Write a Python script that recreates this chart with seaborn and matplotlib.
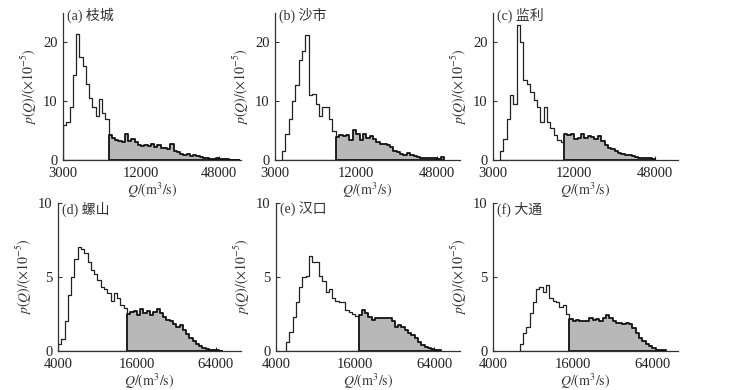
import numpy as np
import pandas as pd
import matplotlib
matplotlib.use("Agg")
import matplotlib.pyplot as plt
import seaborn as sns

sns.set_style("ticks")
plt.rcParams['font.family'] = ['Liberation Serif', 'Noto Sans CJK SC']
plt.rcParams['mathtext.fontset'] = 'stix'

# station names
titles = ["(a) 枝城", "(b) 沙市", "(c) 监利", "(d) 螺山", "(e) 汉口", "(f) 大通"]

# histogram bins are 1/12 octave wide; lower edge of first bin (m3/s)
bin_ratio = 2 ** (1 / 12)
q_first = [3000, 3367, 3367, 4000, 4757, 6350]

# p(Q) x 1e-5, below the threshold discharge (white) and above it (gray)
low_a = [6, 6.5, 9, 14.5, 21.5, 17.5, 16, 13, 10.5, 9, 7.5, 10.3, 8, 7]
high_a = [4.2, 3.8, 3.4, 3.3, 3.0, 4.4, 3.2, 3.6, 3.0, 2.6, 2.3, 2.6, 2.4, 2.7, 2.2,
          2.5, 2.0, 2.1, 1.9, 2.7, 1.6, 1.3, 1.1, 0.9, 1.0, 0.7, 0.8, 0.6, 0.5, 0.4,
          0.3, 0.25, 0.2, 0.3, 0.15, 0.1, 0.1, 0.05, 0.05, 0.05]

low_b = [1.5, 4.5, 7, 10, 12.8, 17, 18.5, 21.3, 11, 11.2, 9.5, 7.5, 9, 9, 7, 5]
high_b = [3.9, 4.3, 4.0, 4.3, 3.4, 5.1, 4.5, 3.4, 4.5, 3.7, 4.0, 3.5, 3.1, 2.8, 2.7,
          2.6, 2.2, 1.6, 1.3, 1.0, 0.9, 1.2, 0.9, 0.7, 0.5, 0.4, 0.4, 0.3, 0.3, 0.35,
          0.25, 0.5]

low_c = [1.5, 3.5, 7, 11, 9.5, 23, 20, 13.6, 13, 11.5, 10.2, 9, 6.5, 9, 6.5, 5.5,
         4.2, 3.4, 3.0]
high_c = [4.5, 4.3, 4.4, 3.5, 3.7, 4.5, 3.8, 4.0, 3.9, 3.6, 4.0, 3.2, 2.5, 2.1, 1.8,
          1.5, 1.2, 1.0, 0.9, 0.8, 0.65, 0.5, 0.4, 0.35, 0.35, 0.3, 0.25]

low_d = [0.5, 0.8, 2.0, 3.8, 5.0, 6.2, 7.0, 6.9, 6.6, 6.0, 5.5, 5.2, 4.8, 4.3, 4.2,
         3.9, 3.4, 3.9, 3.6, 3.1, 2.9]
high_d = [2.5, 2.65, 2.7, 2.45, 2.85, 2.6, 2.7, 2.4, 2.65, 2.85, 2.6, 2.3, 2.1, 2.0,
          1.85, 1.65, 1.75, 1.4, 1.15, 0.9, 0.65, 0.45, 0.32, 0.2, 0.14, 0.1, 0.07,
          0.05, 0.03]

low_e = [0.6, 1.3, 2.3, 3.3, 4.3, 5.0, 5.1, 6.4, 6.0, 6.0, 5.1, 4.7, 4.0, 4.2, 3.6,
         3.35, 3.3, 3.3, 2.8, 2.65, 2.5, 2.35]
high_e = [2.45, 2.75, 2.55, 2.3, 2.1, 2.2, 2.25, 2.2, 2.25, 2.2, 2.0, 1.6, 1.75, 1.6,
          1.4, 1.2, 1.05, 0.85, 0.6, 0.4, 0.3, 0.2, 0.15, 0.1, 0.08]

low_f = [0.45, 1.2, 1.6, 2.6, 3.3, 4.2, 4.3, 4.0, 4.45, 3.6, 3.4, 3.3, 3.0, 3.1, 2.5]
high_f = [2.15, 2.0, 2.1, 2.0, 2.05, 2.05, 2.2, 2.1, 2.15, 2.05, 2.2, 2.4, 2.2, 2.05,
          1.9, 1.9, 1.85, 1.9, 1.8, 1.55, 1.25, 0.9, 0.65, 0.45, 0.35, 0.18, 0.1,
          0.07, 0.05]

lows = [low_a, low_b, low_c, low_d, low_e, low_f]
highs = [high_a, high_b, high_c, high_d, high_e, high_f]

# axis ticks for the two rows
xticks_top = [3000, 12000, 48000]
xticks_bottom = [4000, 16000, 64000]
yticks_top = [0, 10, 20]
yticks_bottom = [0, 5, 10]

# axes rectangles in pixels: left, top, width, height (figure 729 x 390)
W, H = 729, 390
boxes = [(63, 13, 178, 147), (275, 13, 185, 147), (493, 13, 185, 147),
         (58, 203, 183, 148), (276, 203, 184, 148), (493, 203, 185, 148)]

fig = plt.figure(figsize=(W / 100, H / 100), dpi=100)

for i in range(6):
    l, t, w, h = boxes[i]
    ax = fig.add_axes([l / W, 1 - (t + h) / H, w / W, h / H])

    low, high = lows[i], highs[i]
    n = len(low) + len(high)
    edges = q_first[i] * bin_ratio ** np.arange(n + 1)
    centers = np.sqrt(edges[:-1] * edges[1:])
    nl = len(low)

    df_low = pd.DataFrame({"Q": centers[:nl], "p": low})
    df_high = pd.DataFrame({"Q": centers[nl:], "p": high})

    sns.histplot(data=df_low, x="Q", weights="p",
                 bins=np.log10(edges[:nl + 1]).tolist(),
                 log_scale=True, element="step", fill=True,
                 facecolor="white", edgecolor="#222222", linewidth=0.9,
                 alpha=1, ax=ax)
    sns.histplot(data=df_high, x="Q", weights="p",
                 bins=np.log10(edges[nl:]).tolist(),
                 log_scale=True, element="step", fill=True,
                 facecolor="#b8b8b8", edgecolor="#111111", linewidth=1.3,
                 alpha=1, ax=ax)

    top = i < 3
    if top:
        ax.set_xlim(3000, 70800)
        ax.set_ylim(0, 25)
        ax.set_xticks(xticks_top, [str(v) for v in xticks_top])
        ax.set_yticks(yticks_top, [str(v) for v in yticks_top])
        ty = 0.985
    else:
        ax.set_xlim(4000, 100000)
        ax.set_ylim(0, 10)
        ax.set_xticks(xticks_bottom, [str(v) for v in xticks_bottom])
        ax.set_yticks(yticks_bottom, [str(v) for v in yticks_bottom])
        ty = 0.955
    ax.xaxis.set_minor_locator(matplotlib.ticker.NullLocator())

    sns.despine(ax=ax)
    for s in ["left", "bottom"]:
        ax.spines[s].set_color("#333333")
        ax.spines[s].set_linewidth(0.9)
    ax.tick_params(direction="in", length=3, width=0.8, color="#333333",
                   labelsize=10.5, labelcolor="#222222")
    ax.tick_params(axis="x", pad=5)
    ax.tick_params(axis="y", pad=4)

    ax.set_xlabel(r"$Q\mathrm{/(m^3/s)}$", fontsize=10, labelpad=0, color="#333333")
    ax.set_ylabel(r"$p(Q)\mathrm{/(\times 10^{-5})}$", fontsize=10, labelpad=3,
                  color="#333333")
    ax.text(0.02, ty, titles[i], transform=ax.transAxes, ha="left", va="center",
            fontsize=10, color="#333333")

plt.savefig("out.png", dpi=100)
